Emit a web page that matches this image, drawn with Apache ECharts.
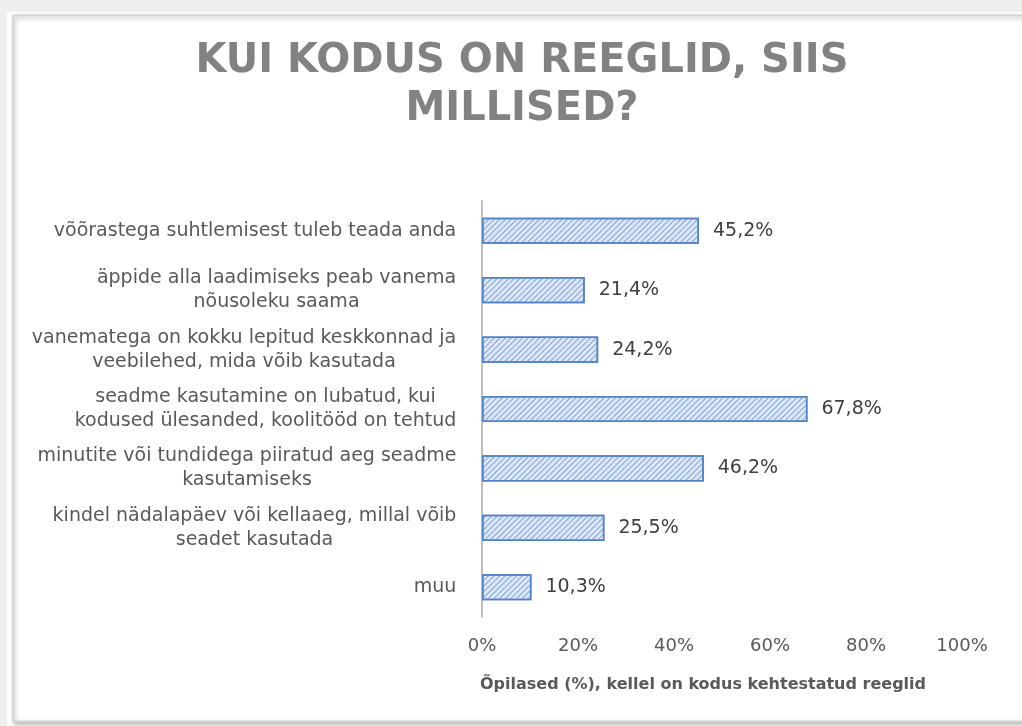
<!DOCTYPE html>
<html>
<head>
<meta charset="utf-8">
<script src="https://cdn.jsdelivr.net/npm/echarts@6/dist/echarts.min.js"></script>
<style>
html,body{margin:0;padding:0;background:#fff;}
#c{width:1022px;height:726px;}
</style>
</head>
<body>
<div id="c"></div>
<script>
const titleText = 'KUI KODUS ON REEGLID, SIIS\nMILLISED?';
const categories = [
  'võõrastega suhtlemisest tuleb teada anda',
  'äppide alla laadimiseks peab vanema\nnõusoleku saama',
  'vanematega on kokku lepitud keskkonnad ja\nveebilehed, mida võib kasutada',
  'seadme kasutamine on lubatud, kui\nkodused ülesanded, koolitööd on tehtud',
  'minutite või tundidega piiratud aeg seadme\nkasutamiseks',
  'kindel nädalapäev või kellaaeg, millal võib\nseadet kasutada',
  'muu'
];
const values = [45.2, 21.4, 24.2, 67.8, 46.2, 25.5, 10.3];
const axisName = 'Õpilased (%), kellel on kodus kehtestatud reeglid';
const xTicks = [0, 20, 40, 60, 80, 100];

const labelFont = '19px "DejaVu Sans"';
const cv = document.createElement('canvas').getContext('2d');
cv.font = labelFont;
const rich = {};
categories.forEach((c, i) => {
  const w = Math.max(...c.split('\n').map(l => cv.measureText(l).width));
  rich['w' + i] = { width: Math.ceil(w) + 1, align: 'center', fontSize: 19, fontFamily: 'DejaVu Sans', color: '#595959', lineHeight: 24 };
});

const chart = echarts.init(document.getElementById('c'));
chart.setOption({
  backgroundColor: '#efefef',
  animation: false,
  graphic: [
    { type: 'rect', z: -10, shape: { x: 7, y: 12, width: 1015, height: 714 }, style: { fill: '#ffffff' } },
    { type: 'rect', z: -9, shape: { x: 13.5, y: 15.5, width: 1030, height: 706 },
      style: { fill: '#ffffff', stroke: '#d4d4d4', lineWidth: 2, shadowBlur: 4, shadowColor: 'rgba(0,0,0,0.25)', shadowOffsetX: 1, shadowOffsetY: 2 } }
  ],
  title: {
    text: titleText,
    left: 517, top: 33, textAlign: 'center',
    textStyle: { fontFamily: 'DejaVu Sans', fontSize: 40, fontWeight: 'bold', color: '#828282', lineHeight: 48, align: 'center' }
  },
  grid: { left: 482, right: 60, top: 201, bottom: 109, containLabel: false },
  xAxis: {
    type: 'value', min: 0, max: 100, interval: 20,
    axisLine: { show: false }, axisTick: { show: false }, splitLine: { show: false },
    axisLabel: { formatter: v => v + '%', color: '#595959', fontSize: 18, fontFamily: 'DejaVu Sans', margin: 20 },
    name: axisName, nameLocation: 'middle', nameGap: 60,
    nameTextStyle: { fontSize: 16, fontWeight: 'bold', color: '#595959', fontFamily: 'DejaVu Sans', padding: [0, 38, 0, 0] }
  },
  yAxis: {
    type: 'category', inverse: true, data: categories,
    axisLine: { show: true, lineStyle: { color: '#bfbfbf', width: 2 } },
    axisTick: { show: false },
    axisLabel: {
      margin: 25,
      formatter: (v, i) => v.split('\n').map(l => '{w' + i + '|' + l + '}').join('\n'),
      rich: rich
    }
  },
  series: [{
    type: 'bar', data: values, barCategoryGap: '56%',
    itemStyle: {
      color: '#dde7f6', borderColor: '#4f81c7', borderWidth: 1.5,
      decal: { symbol: 'rect', symbolSize: 1, color: '#7fa3dc', dashArrayX: [1, 0], dashArrayY: [1, 3], rotation: -Math.PI / 4 }
    },
    label: {
      show: true, position: 'right', distance: 14, color: '#404040', fontSize: 19, fontFamily: 'DejaVu Sans',
      formatter: p => p.value.toFixed(1).replace('.', ',') + '%'
    }
  }]
});
</script>
</body>
</html>
